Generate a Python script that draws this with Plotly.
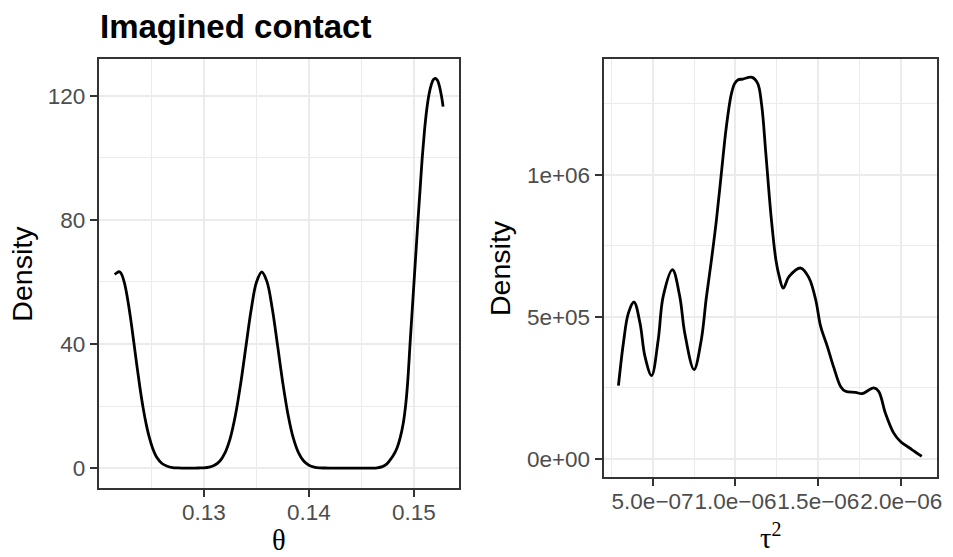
import plotly.graph_objects as go

# ---- data ----
theta_x = [0.12149, 0.1217, 0.1219, 0.1221, 0.1224, 0.1227, 0.1230, 0.1233, 0.1236, 0.1239,
           0.1242, 0.1245, 0.1248, 0.1251, 0.1255, 0.1260, 0.1265, 0.1270, 0.1275, 0.1280,
           0.1285, 0.1290, 0.1295, 0.1300, 0.1305, 0.1310, 0.1315, 0.1320, 0.1325, 0.1330,
           0.1335, 0.1340, 0.1345, 0.1350, 0.13551, 0.1360, 0.1365, 0.1370, 0.1375, 0.1380,
           0.1385, 0.1390, 0.1395, 0.1400, 0.1405, 0.1410, 0.1415, 0.1420, 0.1430, 0.1440,
           0.1450, 0.1455, 0.1460, 0.1465, 0.1470, 0.1474, 0.1477, 0.1480, 0.1484, 0.1487,
           0.1490, 0.1492, 0.1494, 0.14963, 0.14982, 0.15001, 0.1502, 0.15039, 0.15059, 0.15079,
           0.1510, 0.1512, 0.15143, 0.15165, 0.15185, 0.15205, 0.15225, 0.15245, 0.15262, 0.15278]
theta_y = [62.4, 62.9, 63.3, 62.8, 60.0, 55.0, 48.5, 41.0, 33.3, 26.0,
           19.5, 14.1, 9.8, 6.5, 3.5, 1.5, 0.6, 0.2, 0.07, 0.03,
           0.02, 0.03, 0.05, 0.11, 0.34, 0.92, 2.2, 4.9, 9.6, 17.1,
           27.3, 39.3, 51.1, 59.9, 63.2, 60.1, 51.5, 39.8, 27.7, 17.4,
           9.8, 5.0, 2.3, 0.95, 0.36, 0.12, 0.04, 0.01, 0.0, 0.0,
           0.0, 0.01, 0.03, 0.12, 0.5, 1.3, 2.5, 3.9, 6.6, 9.9,
           14.8, 19.9, 27.5, 40.0, 50.0, 60.0, 70.0, 80.0, 90.0, 100.0,
           108.5, 115.0, 120.3, 123.5, 125.2, 125.6, 124.9, 122.8, 120.0, 116.5]

tau_x = [2.94e-7, 3.24e-7, 3.54e-7, 3.88e-7, 4.24e-7, 4.54e-7, 4.94e-7, 5.34e-7, 5.64e-7, 6.20e-7,
         6.64e-7, 6.94e-7, 7.50e-7, 7.94e-7, 8.24e-7, 8.54e-7, 8.84e-7, 9.14e-7, 9.44e-7, 9.74e-7,
         9.94e-7, 1.014e-6, 1.044e-6, 1.100e-6, 1.134e-6, 1.158e-6, 1.184e-6, 1.214e-6, 1.244e-6, 1.264e-6,
         1.288e-6, 1.324e-6, 1.394e-6, 1.444e-6, 1.484e-6, 1.514e-6, 1.554e-6, 1.594e-6, 1.634e-6, 1.664e-6,
         1.724e-6, 1.764e-6, 1.834e-6, 1.864e-6, 1.904e-6, 1.954e-6, 1.994e-6, 2.064e-6, 2.124e-6]
tau_y = [257700, 407900, 513000, 552000, 478000, 360700, 292900, 419400, 571700, 665600,
         571700, 443000, 314000, 419400, 566000, 695000, 835000, 1000000, 1164000, 1281000,
         1320000, 1333600, 1337000, 1343000, 1322000, 1246000, 1070000, 859000, 700000, 642000,
         601000, 642000, 671600, 636400, 560000, 466000, 396000, 320000, 255000, 237700,
         234200, 229600, 249600, 237700, 161700, 91400, 61900, 32700, 9100]

theta_ticks = [0.13, 0.14, 0.15]
theta_minor = [0.125, 0.135, 0.145]
dens1_ticks = [0, 40, 80, 120]
dens1_minor = [20, 60, 100]
tau_ticks = [5e-7, 1e-6, 1.5e-6, 2e-6]
tau_ticktext = ["5.0e\u221207", "1.0e\u221206", "1.5e\u221206", "2.0e\u221206"]
tau_minor = [2.5e-7, 7.5e-7, 1.25e-6, 1.75e-6]
dens2_ticks = [0, 5e5, 1e6]
dens2_ticktext = ["0e+00", "5e+05", "1e+06"]
dens2_minor = [2.5e5, 7.5e5, 1.25e6]

title_text = "Imagined contact"

W, H = 953, 557
SANS = "Liberation Sans, Arial, sans-serif"
SERIF = "Liberation Serif, Times New Roman, serif"
GRID = "#EBEBEB"
BORDER = "#333333"
TICKFONT = dict(family=SANS, size=22.5, color="#4D4D4D")


def px_x(x):
    return x / W


def px_y(y):
    return 1 - y / H


fig = go.Figure()
fig.add_trace(go.Scatter(x=theta_x, y=theta_y, mode="lines",
                         line=dict(color="black", width=2.8, shape="spline", smoothing=1.0),
                         xaxis="x", yaxis="y", showlegend=False, hoverinfo="skip"))
fig.add_trace(go.Scatter(x=tau_x, y=tau_y, mode="lines",
                         line=dict(color="black", width=2.8, shape="spline", smoothing=1.0),
                         xaxis="x2", yaxis="y2", showlegend=False, hoverinfo="skip"))


def axis(domain, rng, tickvals, ticktext, minor, anchor, standoff=0):
    return dict(
        domain=domain, range=rng, anchor=anchor,
        tickmode="array", tickvals=tickvals, ticktext=ticktext,
        ticks="outside", ticklen=7, tickwidth=1.8, tickcolor=BORDER,
        tickfont=TICKFONT, tickangle=0, ticklabeloverflow="allow",
        ticklabelstandoff=standoff,
        showgrid=True, gridcolor=GRID, gridwidth=1.8,
        minor=dict(tickmode="array", tickvals=minor, showgrid=True,
                   gridcolor=GRID, gridwidth=0.9, ticks=""),
        zeroline=False, showline=True, mirror=True, linecolor=BORDER, linewidth=1.8,
    )


L1, R1, T1, B1 = 99.3, 461.7, 58.8, 487.7
L2, R2, T2, B2 = 606.7, 942.3, 59.0, 477.2

fig.update_layout(
    width=W, height=H, autosize=False,
    margin=dict(l=0, r=0, t=0, b=0),
    paper_bgcolor="white", plot_bgcolor="white",
    xaxis=axis([px_x(L1), px_x(R1)], [0.11998, 0.15432], theta_ticks,
               [str(v) for v in theta_ticks], theta_minor, "y", -4),
    yaxis=axis([px_y(B1), px_y(T1)], [-6.3, 131.9], dens1_ticks,
               [str(v) for v in dens1_ticks], dens1_minor, "x"),
    xaxis2=axis([px_x(L2), px_x(R2)], [2.04e-7, 2.218e-6], tau_ticks,
                tau_ticktext, tau_minor, "y2", -4),
    yaxis2=axis([px_y(B2), px_y(T2)], [-64700, 1407500], dens2_ticks,
                dens2_ticktext, dens2_minor, "x2"),
)

annotations = [
    dict(text="<b>" + title_text + "</b>", x=px_x(L1 - 1), y=px_y(26.5), xanchor="left", yanchor="middle",
         font=dict(family=SANS, size=33, color="black")),
    dict(text="Density", x=px_x(22.5), y=px_y((T1 + B1) / 2), textangle=-90,
         xanchor="center", yanchor="middle", font=dict(family=SANS, size=28.5, color="black")),
    dict(text="Density", x=px_x(502.5), y=px_y((T2 + B2) / 2), textangle=-90,
         xanchor="center", yanchor="middle", font=dict(family=SANS, size=28.5, color="black")),
    dict(text="\u03b8", x=px_x((L1 + R1) / 2), y=px_y(540), xanchor="center", yanchor="middle",
         font=dict(family=SERIF, size=28.5, color="black")),
    dict(text="\u03c4<sup>2</sup>", x=px_x((L2 + R2) / 2), y=px_y(536), xanchor="center", yanchor="middle",
         font=dict(family=SERIF, size=28.5, color="black")),
]
for a in annotations:
    a.update(xref="paper", yref="paper", showarrow=False)
fig.update_layout(annotations=annotations)

fig.write_html("out.html")
